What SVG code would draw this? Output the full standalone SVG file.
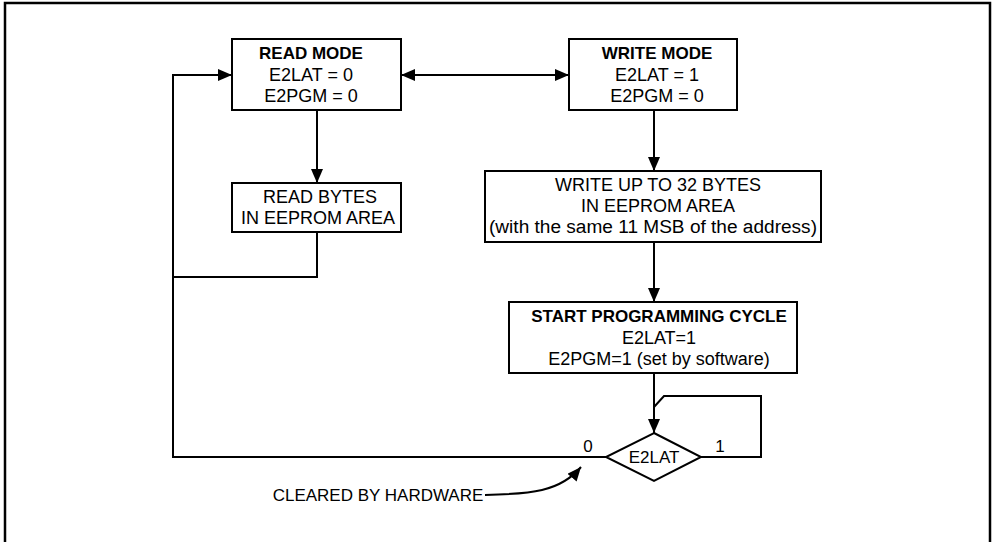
<svg xmlns="http://www.w3.org/2000/svg" width="992" height="542" viewBox="0 0 992 542">
<defs>
<marker id="ah" viewBox="0 0 14 12" refX="14" refY="6" markerWidth="14" markerHeight="12" markerUnits="userSpaceOnUse" orient="auto-start-reverse">
<path d="M0,0 L14,6 L0,12 Z" fill="#000"/>
</marker>
<style>
.box{fill:#fff;stroke:#000;stroke-width:2}
.ln{fill:none;stroke:#000;stroke-width:2}
text{font-family:"Liberation Sans",Arial,sans-serif;font-size:18px;fill:#000;text-anchor:middle}
.b{font-weight:bold;font-size:17px}
.s{font-size:17px}
</style>
</defs>
<rect width="992" height="542" fill="#fff"/>
<path d="M5,545 V3 H990 V545" fill="none" stroke="#000" stroke-width="2.5"/>
<g id="connectors">
<path class="ln" d="M401,75 H569" marker-start="url(#ah)" marker-end="url(#ah)"/>
<path class="ln" d="M606,457 H173 V75 H232" marker-end="url(#ah)"/>
<path class="ln" d="M317,110 V183" marker-end="url(#ah)"/>
<path class="ln" d="M317,232 V277 H173"/>
<path class="ln" d="M654,110 V171" marker-end="url(#ah)"/>
<path class="ln" d="M654,242 V302" marker-end="url(#ah)"/>
<path class="ln" d="M654,373 V433" marker-end="url(#ah)"/>
<path class="ln" d="M701,457 H761 V396 H664 L654,407"/>
<path class="ln" d="M485,495 C530,494 560,492 581,467" marker-end="url(#ah)"/>
</g>
<g id="read-mode">
<rect class="box" x="232" y="39" width="169" height="71"/>
<text class="b" x="311" y="59">READ MODE</text>
<text x="311" y="81">E2LAT = 0</text>
<text x="311" y="102">E2PGM = 0</text>
</g>
<g id="write-mode">
<rect class="box" x="569" y="39" width="168" height="71"/>
<text class="b" x="657" y="59">WRITE MODE</text>
<text x="657" y="81">E2LAT = 1</text>
<text x="657" y="102">E2PGM = 0</text>
</g>
<g id="read-bytes">
<rect class="box" x="232" y="183" width="169" height="49"/>
<text x="320" y="203">READ BYTES</text>
<text x="318" y="224">IN EEPROM AREA</text>
</g>
<g id="write-bytes">
<rect class="box" x="485" y="171" width="336" height="71"/>
<text x="658" y="191">WRITE UP TO 32 BYTES</text>
<text x="658" y="212">IN EEPROM AREA</text>
<text x="653" y="233" textLength="328" lengthAdjust="spacingAndGlyphs">(with the same 11 MSB of the address)</text>
</g>
<g id="start-programming">
<rect class="box" x="509" y="302" width="288" height="71"/>
<text class="b" x="659" y="322">START PROGRAMMING CYCLE</text>
<text x="659" y="344">E2LAT=1</text>
<text x="659" y="365">E2PGM=1 (set by software)</text>
</g>
<g id="decision">
<path class="box" d="M654,433 L701,457 L654,481 L606,457 Z"/>
<text class="s" x="654" y="463">E2LAT</text>
<text class="s" x="588" y="452">0</text>
<text class="s" x="720" y="452">1</text>
</g>
<g id="note">
<text class="s" x="378" y="501">CLEARED BY HARDWARE</text>
</g>
</svg>
